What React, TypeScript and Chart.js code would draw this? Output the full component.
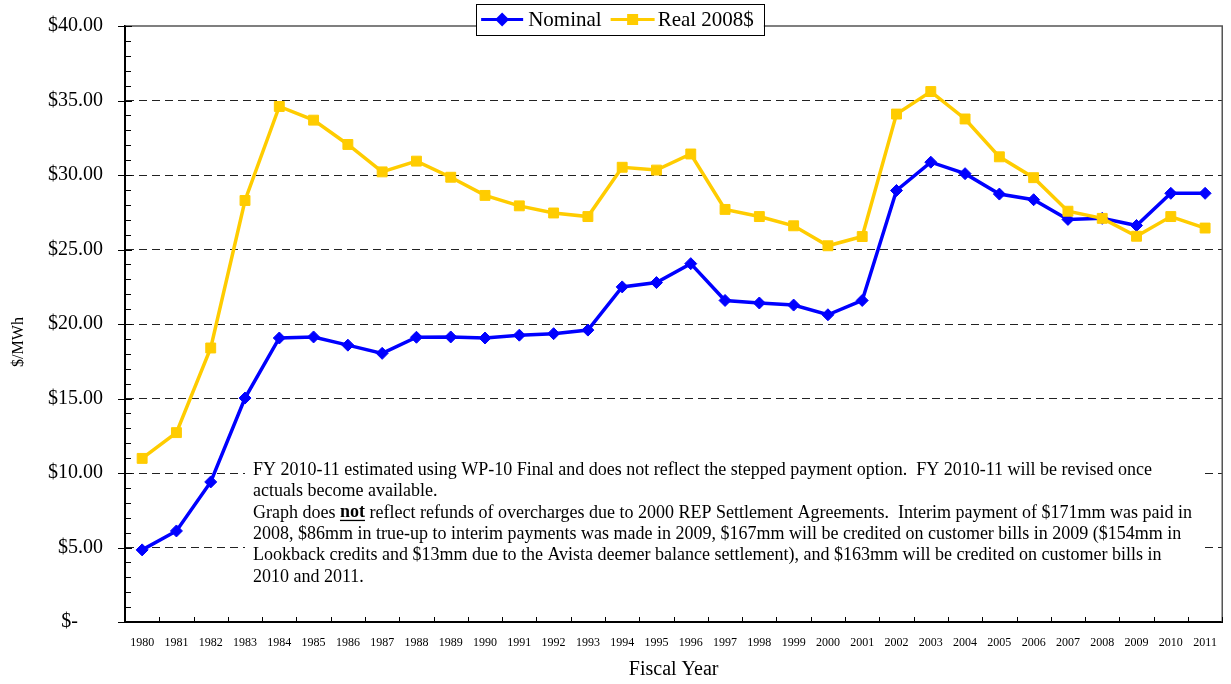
import React, { useEffect, useRef } from "react";
import { Chart, registerables } from "chart.js";

Chart.register(...registerables);

const years = [
  "1980", "1981", "1982", "1983", "1984", "1985", "1986", "1987", "1988", "1989",
  "1990", "1991", "1992", "1993", "1994", "1995", "1996", "1997", "1998", "1999",
  "2000", "2001", "2002", "2003", "2004", "2005", "2006", "2007", "2008", "2009",
  "2010", "2011",
];

const nominal = [
  4.84, 6.11, 9.4, 15.03, 19.06, 19.13, 18.58, 18.03, 19.11, 19.13,
  19.06, 19.25, 19.35, 19.59, 22.49, 22.78, 24.05, 21.58, 21.41, 21.27,
  20.62, 21.58, 28.96, 30.86, 30.09, 28.72, 28.34, 27.02, 27.09, 26.61,
  28.77, 28.77,
];

const real2008 = [
  10.98, 12.71, 18.39, 28.29, 34.6, 33.68, 32.05, 30.21, 30.93, 29.85,
  28.63, 27.93, 27.45, 27.21, 30.52, 30.33, 31.41, 27.69, 27.21, 26.59,
  25.25, 25.87, 34.09, 35.6, 33.76, 31.22, 29.82, 27.57, 27.09, 25.89,
  27.21, 26.44,
];

const seriesLabels = ["Nominal", "Real 2008$"];
const xTitle = "Fiscal Year";
const yTitle = "$/MWh";

// note lines: segments [text, bold]
const noteLines: [string, boolean][][] = [
  [["FY 2010-11 estimated using WP-10 Final and does not reflect the stepped payment option.  FY 2010-11 will be revised once", false]],
  [["actuals become available.", false]],
  [["Graph does ", false], ["not", true], [" reflect refunds of overcharges due to 2000 REP Settlement Agreements.  Interim payment of $171mm was paid in", false]],
  [["2008, $86mm in true-up to interim payments was made in 2009, $167mm will be credited on customer bills in 2009 ($154mm in", false]],
  [["Lookback credits and $13mm due to the Avista deemer balance settlement), and $163mm will be credited on customer bills in", false]],
  [["2010 and 2011.", false]],
];

const BLUE = "#0000FF";
const YELLOW = "#FFCC00";
const FONT = "'Liberation Serif', 'Times New Roman', serif";

const decorPlugin = {
  id: "decor",
  beforeDatasetsDraw(chart: any) {
    const { ctx, chartArea: ca } = chart;
    ctx.save();
    // white note box covering gridlines
    const bx = ca.left + 120;
    const by = ca.bottom - 164;
    ctx.fillStyle = "#ffffff";
    ctx.fillRect(bx, by, 960, 134);
    ctx.fillStyle = "#000";
    ctx.textBaseline = "middle";
    ctx.textAlign = "left";
    const lh = 21.4;
    noteLines.forEach((segs, i) => {
      let x = bx + 8;
      const y = by + 12 + i * lh;
      segs.forEach(([t, bold]) => {
        ctx.font = `${bold ? "bold " : ""}18px ${FONT}`;
        ctx.fillText(t, x, y);
        const w = ctx.measureText(t).width;
        if (bold) {
          ctx.fillRect(x, y + 7, w, 1.3);
        }
        x += w;
      });
    });
    ctx.restore();
  },
  afterDraw(chart: any) {
    const { ctx, chartArea: ca, scales } = chart;
    const xs = scales.x;
    const ys = scales.y;
    ctx.save();
    // top & right frame
    ctx.strokeStyle = "#555";
    ctx.lineWidth = 1.5;
    ctx.beginPath();
    ctx.moveTo(ca.left, ca.top);
    ctx.lineTo(ca.right, ca.top);
    ctx.lineTo(ca.right, ca.bottom);
    ctx.stroke();

    // y tick marks
    ctx.strokeStyle = "#000";
    ctx.lineWidth = 1;
    for (let v = 0; v <= 40; v += 1) {
      const y = Math.round(ys.getPixelForValue(v)) + 0.5;
      ctx.beginPath();
      if (v % 5 === 0) {
        ctx.moveTo(ca.left - 7, y);
        ctx.lineTo(ca.left + 7, y);
      } else {
        ctx.moveTo(ca.left, y);
        ctx.lineTo(ca.left + 6, y);
      }
      ctx.stroke();
    }
    // x tick marks at category boundaries
    const n = years.length;
    const step = xs.getPixelForValue(1) - xs.getPixelForValue(0);
    for (let i = 0; i <= n; i++) {
      const x = Math.round(xs.getPixelForValue(i) - step / 2) + 0.5;
      ctx.beginPath();
      ctx.moveTo(x, ca.bottom);
      ctx.lineTo(x, ca.bottom - 5);
      ctx.stroke();
    }

    // y axis title
    ctx.save();
    ctx.translate(19, (ca.top + ca.bottom) / 2 + 18);
    ctx.rotate(-Math.PI / 2);
    ctx.fillStyle = "#000";
    ctx.font = `16px ${FONT}`;
    ctx.textAlign = "center";
    ctx.textBaseline = "middle";
    ctx.fillText(yTitle, 0, 0);
    ctx.restore();

    // legend
    const ds = chart.data.datasets;
    ctx.font = `21px ${FONT}`;
    const w1 = ctx.measureText(ds[0].label).width;
    const w2 = ctx.measureText(ds[1].label).width;
    const total = 5 + 42 + 5 + w1 + 9 + 44 + 3 + w2 + 10;
    const cx = 620;
    const left = cx - total / 2;
    const top = 4;
    const h = 31;
    ctx.fillStyle = "#fff";
    ctx.fillRect(left, top, total, h);
    ctx.strokeStyle = "#000";
    ctx.lineWidth = 1;
    ctx.strokeRect(Math.round(left) + 0.5, top + 0.5, Math.round(total), h);
    const my = top + h / 2;
    let x = left + 5;
    // item 1
    ctx.strokeStyle = ds[0].borderColor;
    ctx.lineWidth = 3;
    ctx.beginPath();
    ctx.moveTo(x, my);
    ctx.lineTo(x + 42, my);
    ctx.stroke();
    ctx.fillStyle = ds[0].borderColor;
    const dx = x + 21;
    ctx.beginPath();
    ctx.moveTo(dx, my - 7);
    ctx.lineTo(dx + 7, my);
    ctx.lineTo(dx, my + 7);
    ctx.lineTo(dx - 7, my);
    ctx.closePath();
    ctx.fill();
    x += 47;
    ctx.fillStyle = "#000";
    ctx.textBaseline = "middle";
    ctx.fillText(ds[0].label, x, my + 1);
    x += w1 + 9;
    // item 2
    ctx.strokeStyle = ds[1].borderColor;
    ctx.lineWidth = 3;
    ctx.beginPath();
    ctx.moveTo(x, my);
    ctx.lineTo(x + 44, my);
    ctx.stroke();
    ctx.fillStyle = ds[1].borderColor;
    ctx.fillRect(x + 22 - 5.5, my - 5.5, 11, 11);
    x += 47;
    ctx.fillStyle = "#000";
    ctx.fillText(ds[1].label, x, my + 1);
    ctx.restore();
  },
};

export default function App() {
  const ref = useRef<HTMLCanvasElement>(null);
  useEffect(() => {
    const canvas = ref.current;
    if (!canvas) return;
    const chart = new Chart(canvas, {
      type: "line",
      data: {
        labels: years,
        datasets: [
          {
            label: seriesLabels[0],
            data: nominal,
            borderColor: BLUE,
            backgroundColor: BLUE,
            borderWidth: 3.5,
            pointStyle: "rectRot",
            pointRadius: 6,
            pointBorderWidth: 1,
            pointBackgroundColor: BLUE,
            pointBorderColor: BLUE,
            tension: 0,
            order: 1,
          },
          {
            label: seriesLabels[1],
            data: real2008,
            borderColor: YELLOW,
            backgroundColor: YELLOW,
            borderWidth: 3.5,
            pointStyle: "rect",
            pointRadius: 7,
            pointBorderWidth: 1,
            pointBackgroundColor: YELLOW,
            pointBorderColor: YELLOW,
            tension: 0,
            order: 0,
          },
        ],
      },
      options: {
        responsive: false,
        animation: false,
        layout: { padding: { top: 26, right: 4, left: 0, bottom: 0 } },
        plugins: {
          legend: { display: false },
          tooltip: { enabled: false },
        },
        scales: {
          x: {
            type: "category",
            offset: true,
            grid: { display: false, drawTicks: false },
            border: { display: true, color: "#000", width: 2 },
            ticks: {
              color: "#000",
              font: { family: FONT, size: 12 },
              maxRotation: 0,
              autoSkip: false,
              padding: 14,
            },
            title: {
              display: true,
              text: xTitle,
              color: "#000",
              font: { family: FONT, size: 20 },
              padding: { top: 0, bottom: 2 },
            },
            afterFit: (s: any) => {
              s.height = 62;
            },
          },
          y: {
            min: 0,
            max: 40,
            grid: {
              drawTicks: true,
              tickLength: 18,
              tickColor: "rgba(0,0,0,0)",
              color: (c: any) =>
                c.tick && (c.tick.value === 0 || c.tick.value === 40) ? "rgba(0,0,0,0)" : "#222",
              lineWidth: 1,
            },
            border: { display: true, color: "#000", width: 2, dash: [8, 5] },
            ticks: {
              stepSize: 5,
              color: "#000",
              font: { family: FONT, size: 20 },
              padding: 4,
              callback: (v: any) => (Number(v) === 0 ? "$-     " : "$" + Number(v).toFixed(2)),
            },
            title: { display: false },
            afterFit: (s: any) => {
              s.width = 125;
            },
          },
        },
      },
      plugins: [decorPlugin],
    });
    return () => chart.destroy();
  }, []);
  return (
    <canvas
      ref={ref}
      width={1231}
      height={684}
      style={{ position: "absolute", left: 0, top: 0, width: 1231, height: 684, background: "#fff" }}
    />
  );
}
